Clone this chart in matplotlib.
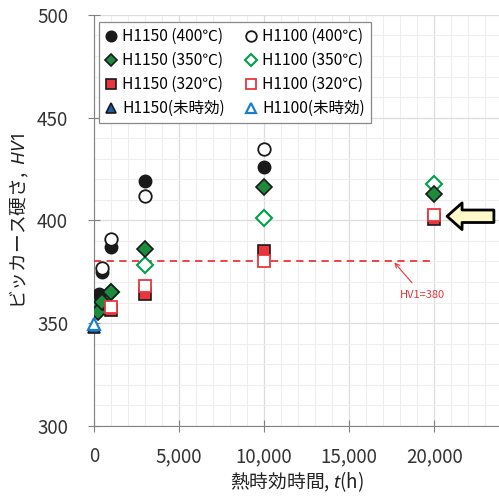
import matplotlib
matplotlib.use("Agg")
import matplotlib.pyplot as plt
from matplotlib.ticker import MultipleLocator, FuncFormatter

plt.rcParams['font.family'] = ['Noto Sans CJK JP', 'DejaVu Sans']
plt.rcParams['mathtext.fontset'] = 'custom'
plt.rcParams['mathtext.it'] = 'Noto Sans:italic'
plt.rcParams['mathtext.rm'] = 'Noto Sans'

# 時効時間 (h) とビッカース硬さ HV1
h1150_400_t = [300, 500, 1000, 3000, 10000]
h1150_400_hv = [364, 375, 387, 419, 426]
h1100_400_t = [500, 1000, 3000, 10000]
h1100_400_hv = [377, 391, 412, 434.5]

h1150_350_t = [250, 500, 1000, 3000, 10000, 20000]
h1150_350_hv = [355.5, 360.5, 365, 386, 416, 413]
h1100_350_t = [250, 500, 1000, 3000, 10000, 20000]
h1100_350_hv = [356, 361, 365, 378.5, 401, 417.5]

h1150_320_t = [1000, 3000, 10000, 20000]
h1150_320_hv = [356.5, 364, 385, 400.5]
h1100_320_t = [1000, 3000, 10000, 20000]
h1100_320_hv = [358, 368, 380, 402.5]

h1150_0_t = [0]
h1150_0_hv = [348]
h1100_0_t = [0]
h1100_0_hv = [349.5]

hv_limit = 380

fig = plt.figure(figsize=(4.99, 4.98), dpi=100)
ax = fig.add_axes([0.188, 0.145, 0.812, 0.825])

dark = '#1a1a1a'
green = '#00a04a'
red = '#e8363c'
blue = '#1a7fd0'
ms = 9

ax.plot(h1150_400_t, h1150_400_hv, 'o', ms=ms, mfc=dark, mec=dark, label='H1150 (400℃)', zorder=5)
ax.plot(h1150_350_t, h1150_350_hv, 'D', ms=ms * 0.85, mfc='#1e8a3c', mec=dark, mew=1.2, label='H1150 (350℃)', zorder=5)
ax.plot(h1150_320_t, h1150_320_hv, 's', ms=ms, mfc=red, mec=dark, mew=1.2, label='H1150 (320℃)', zorder=5)
ax.plot(h1150_0_t, h1150_0_hv, '^', ms=ms, mfc='#1f5fa8', mec=dark, mew=1.2, label='H1150(未時効)', zorder=5, clip_on=False)
ax.plot(h1100_400_t, h1100_400_hv, 'o', ms=ms, mfc='white', mec=dark, mew=1.3, label='H1100 (400℃)', zorder=6)
ax.plot(h1100_350_t, h1100_350_hv, 'D', ms=ms * 0.85, mfc='white', mec=green, mew=1.5, label='H1100 (350℃)', zorder=4)
ax.plot(h1100_320_t, h1100_320_hv, 's', ms=ms, mfc='white', mec=red, mew=1.3, label='H1100 (320℃)', zorder=6)
ax.plot(h1100_0_t, h1100_0_hv, '^', ms=ms, mfc='white', mec=blue, mew=1.6, label='H1100(未時効)', zorder=6, clip_on=False)

# HV1=380 の基準線
ax.plot([0, 20000], [hv_limit, hv_limit], '--', color=red, lw=1.3, dashes=(4, 3), zorder=3)
ax.annotate('HV1=380', xy=(17600, hv_limit), xytext=(19300, 363.8),
            color=red, fontsize=8, ha='center', va='center',
            arrowprops=dict(arrowstyle='->', color=red, lw=0.8, shrinkA=4, shrinkB=1))

# 20,000 h の点を指す矢印
ax.annotate('', xy=(20750, 402), xytext=(23500, 402),
            arrowprops=dict(arrowstyle='simple,head_length=0.9,head_width=1.6,tail_width=0.75',
                            fc='#fff8c8', ec='black', lw=2, mutation_scale=12,
                            shrinkA=0, shrinkB=0))

ax.set_xlim(0, 23800)
ax.set_ylim(300, 500)
ax.xaxis.set_major_locator(MultipleLocator(5000))
ax.xaxis.set_minor_locator(MultipleLocator(1000))
ax.yaxis.set_major_locator(MultipleLocator(50))
ax.yaxis.set_minor_locator(MultipleLocator(10))
ax.xaxis.set_major_formatter(FuncFormatter(lambda v, p: f'{int(v):,}'))

ax.grid(which='minor', color='#eeeeee', lw=0.8)
ax.grid(which='major', color='#dcdcdc', lw=0.9)
ax.set_axisbelow(True)

for s in ['top', 'right']:
    ax.spines[s].set_visible(False)
for s in ['left', 'bottom']:
    ax.spines[s].set_color('#808080')
ax.tick_params(which='major', direction='inout', length=9, color='#808080',
               labelsize=13.5, labelcolor='#333333')
ax.tick_params(axis='y', which='major', pad=14)
ax.tick_params(axis='x', which='major', pad=10)
ax.tick_params(which='minor', length=0)

ax.set_xlabel('熱時効時間, $t$(h)', fontsize=13.5, color='#222222', labelpad=2)
ax.set_ylabel('ビッカース硬さ,  $HV1$', fontsize=13.5, color='#222222', labelpad=4)

leg = ax.legend(ncol=2, loc='upper left', bbox_to_anchor=(0.012, 0.983), fontsize=11.2,
                frameon=True, fancybox=False, edgecolor='#888888', framealpha=1,
                markerscale=0.85, handlelength=0.8, handletextpad=0.3, columnspacing=1.3,
                labelspacing=0.45, borderpad=0.4, borderaxespad=0)
leg.get_frame().set_linewidth(0.9)

fig.savefig('out.png', dpi=100)
